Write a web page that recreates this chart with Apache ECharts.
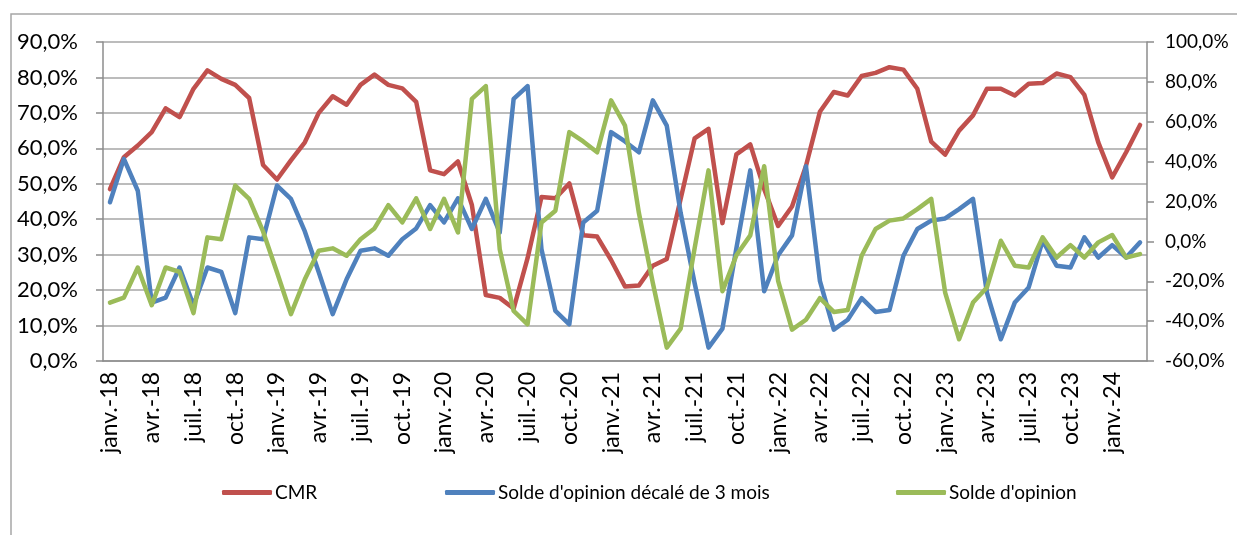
<!DOCTYPE html>
<html lang="fr">
<head>
    <meta charset="UTF-8">
    <title>CMR et solde d'opinion</title>
    <script src="https://cdn.jsdelivr.net/npm/echarts@6/dist/echarts.min.js"></script>
    <style>
        html, body { margin: 0; padding: 0; background: #fff; }
        #main { width: 1237px; height: 535px; }
    </style>
</head>
<body>
<div id="main"></div>
<script>
    // mois de janv.-18 à mars-24
    var moisNoms = ['janv.', 'févr.', 'mars', 'avr.', 'mai', 'juin', 'juil.', 'août', 'sept.', 'oct.', 'nov.', 'déc.'];
    var annees = ['18', '19', '20', '21', '22', '23', '24'];
    var nbMois = 75;

    var categories = [];
    for (var a = 0; a < annees.length; a++) {
        for (var m = 0; m < 12; m++) {
            if (categories.length < nbMois) categories.push(moisNoms[m] + '-' + annees[a]);
        }
    }

    // CMR (axe gauche, %)
    var cmr = [48.5, 57.5, 60.8, 64.6, 71.3, 68.8, 76.8, 82.0, 79.6, 77.9, 74.2, 55.3,
        51.2, 56.6, 61.7, 70.0, 74.7, 72.3, 77.9, 80.8, 77.9, 76.9, 73.1, 53.8,
        52.7, 56.3, 44.0, 18.6, 17.8, 14.8, 29.0, 46.3, 45.9, 50.1, 35.5, 35.1,
        28.5, 21.0, 21.3, 26.9, 28.8, 45.8, 62.8, 65.5, 38.9, 58.3, 61.1, 48.5,
        38.1, 43.6, 55.0, 70.3, 75.9, 74.9, 80.4, 81.3, 82.9, 82.2, 76.8, 61.9,
        58.2, 65.0, 69.3, 76.8, 76.8, 74.9, 78.2, 78.4, 81.1, 80.1, 75.1, 61.7,
        51.8, 58.9, 66.6];

    // Solde d'opinion décalé de 3 mois (axe droit, %)
    var soldeDecale = [19.6, 41.4, 25.4,
        -30.7, -28.2, -13.1, -32.0, -13.1, -15.3, -36.0, 2.0, 1.1, 28.0, 21.3, 5.0,
        -15.5, -36.5, -19.0, -4.7, -3.5, -7.2, 1.1, 6.5, 18.2, 9.5, 21.6, 6.2,
        21.3, 4.5, 71.5, 77.9, -3.9, -34.9, -41.6, 9.5, 15.4, 54.8, 50.1, 44.7,
        70.7, 58.1, 14.2, -20.9, -53.3, -43.8, -3.5, 35.6, -25.0, -7.0, 3.0, 37.7,
        -19.8, -44.3, -39.3, -28.5, -35.4, -34.4, -7.2, 6.2, 10.4, 11.5, 16.2, 21.3,
        -25.7, -49.1, -30.7, -23.1, 0.3, -12.2, -13.1, 2.0, -8.1, -1.9, -8.1, -0.5];

    // Solde d'opinion (axe droit, %)
    var solde = [-30.7, -28.2, -13.1, -32.0, -13.1, -15.3, -36.0, 2.0, 1.1, 28.0, 21.3, 5.0,
        -15.5, -36.5, -19.0, -4.7, -3.5, -7.2, 1.1, 6.5, 18.2, 9.5, 21.6, 6.2,
        21.3, 4.5, 71.5, 77.9, -3.9, -34.9, -41.6, 9.5, 15.4, 54.8, 50.1, 44.7,
        70.7, 58.1, 14.2, -20.9, -53.3, -43.8, -3.5, 35.6, -25.0, -7.0, 3.0, 37.7,
        -19.8, -44.3, -39.3, -28.5, -35.4, -34.4, -7.2, 6.2, 10.4, 11.5, 16.2, 21.3,
        -25.7, -49.1, -30.7, -23.1, 0.3, -12.2, -13.1, 2.0, -8.1, -1.9, -8.1, -0.5,
        3.2, -8.1, -6.4];

    var police = 'Lato, "Open Sans", sans-serif';

    function pct(v) {
        return v.toFixed(1).replace('.', ',') + '%';
    }

    var myChart = echarts.init(document.getElementById('main'), null, {renderer: 'canvas'});

    function ligne(nom, couleur, data, axe) {
        return {
            name: nom,
            type: 'line',
            yAxisIndex: axe,
            data: data,
            symbol: 'none',
            smooth: false,
            animation: false,
            color: couleur,
            lineStyle: {width: 4.5, color: couleur, join: 'round', cap: 'round'}
        };
    }

    function legende(nom, gauche) {
        return {
            data: [nom],
            left: gauche,
            top: 478,
            itemWidth: 50,
            itemHeight: 5,
            icon: 'roundRect',
            itemGap: 0,
            textStyle: {fontFamily: police, fontSize: 19, color: '#000', padding: [0, 0, 0, -2]}
        };
    }

    var option = {
        backgroundColor: '#fff',
        animation: false,
        graphic: [{
            type: 'rect',
            shape: {x: 11, y: 14, width: 1400, height: 700},
            style: {fill: 'none', stroke: '#a6a6a6', lineWidth: 1.5},
            silent: true
        }],
        legend: [
            legende('CMR', 217),
            legende("Solde d'opinion décalé de 3 mois", 440),
            legende("Solde d'opinion", 891)
        ],
        grid: {left: 103, right: 90, top: 42, bottom: 174},
        xAxis: {
            type: 'category',
            data: categories,
            boundaryGap: true,
            axisLine: {lineStyle: {color: '#8c8c8c', width: 1.5}},
            axisTick: {interval: 2, length: 6, lineStyle: {color: '#8c8c8c', width: 1.5}},
            axisLabel: {
                interval: 2,
                rotate: 90,
                margin: 11,
                fontFamily: police,
                fontSize: 23,
                color: '#000'
            },
            splitLine: {show: false}
        },
        yAxis: [{
            type: 'value',
            min: 0,
            max: 90,
            interval: 10,
            axisLine: {show: true, lineStyle: {color: '#8c8c8c', width: 1.5}},
            axisTick: {show: true, length: 7, lineStyle: {color: '#8c8c8c', width: 1.5}},
            axisLabel: {formatter: pct, margin: 25, fontFamily: police, fontSize: 22, color: '#000'},
            splitLine: {show: true, lineStyle: {color: '#a6a6a6', width: 1.5}}
        }, {
            type: 'value',
            min: -60,
            max: 100,
            interval: 20,
            position: 'right',
            axisLine: {show: true, lineStyle: {color: '#8c8c8c', width: 1.5}},
            axisTick: {show: true, length: 7, lineStyle: {color: '#8c8c8c', width: 1.5}},
            axisLabel: {formatter: pct, margin: 18, fontFamily: police, fontSize: 19, color: '#000'},
            splitLine: {show: false}
        }],
        series: [
            ligne('CMR', '#C0504D', cmr, 0),
            ligne("Solde d'opinion décalé de 3 mois", '#4F81BD', soldeDecale, 1),
            ligne("Solde d'opinion", '#9BBB59', solde, 1)
        ]
    };

    myChart.setOption(option);
</script>
</body>
</html>
